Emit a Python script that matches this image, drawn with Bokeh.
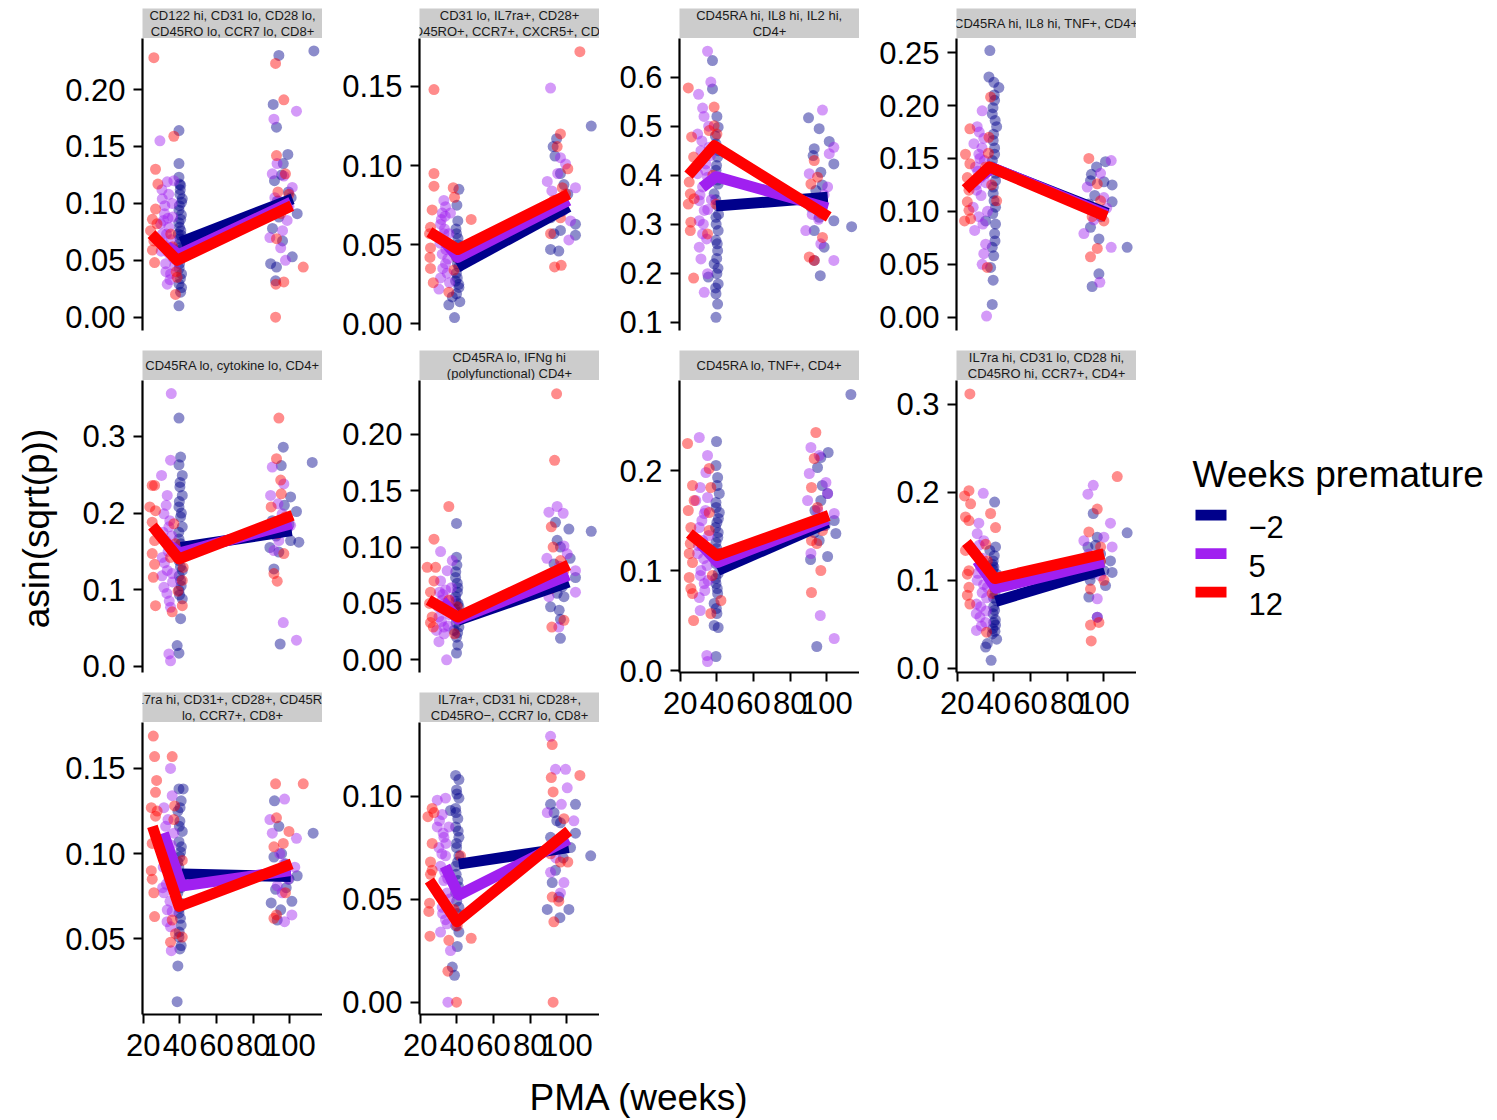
import math
from bokeh.plotting import figure
from bokeh.layouts import row, column
from bokeh.models import Range1d, FixedTicker, Spacer
from bokeh.embed import file_html
from bokeh.resources import INLINE
from bokeh.core.properties import value

FONT = "Liberation Sans"
GROUPS = ["\u22122", "5", "12"]
COLORS = ["#00008B", "#A020F0", "#FF0000"]
STRIP_FILL = "#CCCCCC"

TITLES = [
    "CD122 hi, CD31 lo, CD28 lo,\nCD45RO lo, CCR7 lo, CD8+",
    "CD31 lo, IL7ra+, CD28+\nCD45RO+, CCR7+, CXCR5+, CD4+",
    "CD45RA hi, IL8 hi, IL2 hi,\nCD4+",
    "CD45RA hi, IL8 hi, TNF+, CD4+",
    "CD45RA lo, cytokine lo, CD4+",
    "CD45RA lo, IFNg hi\n(polyfunctional) CD4+",
    "CD45RA lo, TNF+, CD4+",
    "IL7ra hi, CD31 lo, CD28 hi,\nCD45RO hi, CCR7+, CD4+",
    "IL7ra hi, CD31+, CD28+, CD45RO\nlo, CCR7+, CD8+",
    "IL7ra+, CD31 hi, CD28+,\nCD45RO\u2212, CCR7 lo, CD8+",
]

X_RANGE = (19.6, 117.8)
X_TICKS = [20, 40, 60, 80, 100]

Y_LIMITS = [(-0.0117, 0.2449), (-0.0042, 0.1803), (0.083, 0.679), (-0.0126, 0.2634),
            (-0.0082, 0.373), (-0.0113, 0.2478), (-0.002, 0.29), (-0.0049, 0.3273),
            (0.0055, 0.177), (-0.006, 0.1357)]
Y_TICKS = [[0.0, 0.05, 0.10, 0.15, 0.20], [0.0, 0.05, 0.10, 0.15], [0.1, 0.2, 0.3, 0.4, 0.5, 0.6],
           [0.0, 0.05, 0.10, 0.15, 0.20, 0.25], [0.0, 0.1, 0.2, 0.3], [0.0, 0.05, 0.10, 0.15, 0.20],
           [0.0, 0.1, 0.2], [0.0, 0.1, 0.2, 0.3], [0.05, 0.10, 0.15], [0.0, 0.05, 0.10]]
Y_TICK_LABELS = [["0.00", "0.05", "0.10", "0.15", "0.20"], ["0.00", "0.05", "0.10", "0.15"],
                 ["0.1", "0.2", "0.3", "0.4", "0.5", "0.6"], ["0.00", "0.05", "0.10", "0.15", "0.20", "0.25"],
                 ["0.0", "0.1", "0.2", "0.3"], ["0.00", "0.05", "0.10", "0.15", "0.20"],
                 ["0.0", "0.1", "0.2"], ["0.0", "0.1", "0.2", "0.3"], ["0.05", "0.10", "0.15"],
                 ["0.00", "0.05", "0.10"]]

# ---------------- points (PMA weeks, asin(sqrt(p))) ----------------
P1_N_X = [39.5,39.5,39.5,40.4,40,40.9,39.5,40.4,39.8,40.7,39.5,40.4,39.8,40.9,39.5,40.4,39.5,41.3,39.1,41.3,
          94,113.1,90.9,92.7,98.9,96.4,91.6,100.7,104,94,89.5,92.7,101.3,92.2,96,93.1,
          40.2,39.7,40.8,39.4,40.5,40.1,39.9,40.6,39.6,40.3,40.9,39.8, 95.5,97.8,90.5,99.2]
P1_N_Y = [0.164,0.135,0.123,0.116,0.108,0.101,0.094,0.086,0.079,0.072,0.064,0.056,0.047,0.038,0.029,0.022,0.010,0.104,0.073,0.060,
          0.230,0.234,0.187,0.167,0.143,0.135,0.120,0.105,0.091,0.088,0.047,0.044,0.053,0.032,0.067,0.102,
          0.112,0.098,0.090,0.083,0.076,0.069,0.061,0.052,0.043,0.034,0.026,0.117, 0.125,0.096,0.078,0.110]
P1_P_X = [29.1,33.1,30.4,31.6,29.5,32.7,31.3,34,32.2,34.9,33.1,35.8,36.7,30.4,34,35.3,
          91.3,103.6,90.4,96.7,94,101.3,89.1,97.6,95,98.5,91.3,96,
          30.2,31.8,33.5,35.2,36.4,29.8,32.4,34.6,37.2,31.0,33.9,36.0, 93,99.5,91.8]
P1_P_Y = [0.155,0.119,0.104,0.091,0.082,0.073,0.064,0.056,0.047,0.038,0.029,0.100,0.120,0.073,0.079,0.061,
          0.174,0.181,0.126,0.124,0.102,0.114,0.070,0.050,0.061,0.085,0.091,0.076,
          0.112,0.098,0.087,0.068,0.052,0.058,0.040,0.033,0.045,0.085,0.108,0.088, 0.135,0.097,0.105]
P1_R_X = [25.8,26.7,28,26.7,25,24,25.8,25,26.2,36.7,38.5,37.6,36.7,35,
          92.2,96.7,92.7,97.6,93.5,92.7,92.4,96.7,107.3,92.2,99.5,95, 36.0,38.0,27.5]
P1_R_Y = [0.228,0.130,0.117,0.095,0.086,0.076,0.067,0.059,0.048,0.159,0.035,0.020,0.053,0.073,
          0.223,0.191,0.142,0.126,0.110,0.069,0.029,0.031,0.044,0.0,0.108,0.091, 0.062,0.040,0.082]

P2_N_X = [41.1,40.5,39.8,40.7,39.8,41.1,40.2,41.1,39.8,41.6,35.6,38.7,37.5,39.3,
          113.3,94.4,92.5,96.5,98.4,94.7,91.1,96.5,104.7,91.1,95.6,104.7,92.9,
          40.0,39.5,40.8,40.3,39.7,41.0,39.9,40.6, 93.5,97.2,100.5]
P2_N_Y = [0.085,0.065,0.057,0.050,0.042,0.036,0.029,0.023,0.019,0.014,0.012,0.004,0.017,0.027,
          0.125,0.117,0.112,0.095,0.088,0.078,0.067,0.059,0.056,0.047,0.046,0.063,0.057,
          0.075,0.060,0.046,0.038,0.032,0.025,0.047,0.054, 0.106,0.071,0.082]
P2_P_X = [32.9,32,33.8,31.1,32.9,34.7,32,33.8,31.1,30.2,35.6,34.7,36.5,
          91.1,89.3,96.5,99.3,104.7,101.1,98.4,91.8,
          31.5,33.2,34.0,35.0,32.3,36.0,30.8,33.6, 95.0,92.7,102.0]
P2_P_Y = [0.078,0.070,0.074,0.063,0.057,0.051,0.044,0.038,0.029,0.022,0.057,0.032,0.070,
          0.149,0.090,0.105,0.101,0.086,0.053,0.072,0.084,
          0.066,0.060,0.047,0.041,0.035,0.026,0.051,0.068, 0.095,0.077,0.065]
P2_R_X = [27.5,27.5,27.5,26.5,25.6,25.1,25.6,25.3,25.6,27.1,38,38.7,47.8,40.2,38.4,35.6,
          107.1,96.5,94.7,100.5,97.5,92.9,96.5,91.1,93.3,96.9,99.3]
P2_R_Y = [0.148,0.095,0.087,0.072,0.061,0.057,0.048,0.042,0.035,0.026,0.086,0.080,0.066,0.042,0.034,0.020,
          0.172,0.120,0.112,0.098,0.086,0.078,0.067,0.057,0.036,0.037,0.082]

P3_N_X = [37.6,37.6,40.7,39.5,40.4,39.5,40.7,38.5,40.4,39.5,40.7,39.5,40.4,38.5,40,40.7,39.5,40.4,39.5,35.3,
          90,95.8,101.3,93.1,103.8,96.7,94,91.3,95.8,93.1,98.5,93.1,96.4,113.5,103.8,
          40.0,39.2,40.8,39.8,40.5,39.4,40.9,39.6,40.2,39.9,40.6,39.3, 92.5,97.5,95.0]
P3_N_Y = [0.634,0.576,0.498,0.464,0.437,0.410,0.382,0.362,0.338,0.314,0.287,0.267,0.246,0.219,0.199,0.178,0.158,0.137,0.110,0.192,
          0.517,0.495,0.469,0.454,0.423,0.406,0.369,0.335,0.314,0.287,0.253,0.226,0.195,0.295,0.307,
          0.52,0.48,0.45,0.42,0.39,0.35,0.32,0.30,0.26,0.23,0.21,0.17, 0.44,0.38,0.34]
P3_P_X = [34.9,36.7,30,32.2,29.5,31.3,34,29.5,32.2,30.4,33.1,30.4,32.2,30.4,31.3,34.9,33.1,35.8,34.9,
          97.6,103.8,101.3,88.5,103.8,96.7,93.1,100.4,90.4,
          33.0,35.5,31.8,36.5,33.8,30.8,35.0,32.6,34.4,37.0, 95.5,98.5,92.0]
P3_P_Y = [0.653,0.590,0.565,0.537,0.484,0.450,0.423,0.403,0.376,0.348,0.328,0.307,0.280,0.253,0.229,0.199,0.161,0.457,0.396,
          0.533,0.457,0.444,0.287,0.226,0.260,0.348,0.376,0.403,
          0.52,0.50,0.47,0.44,0.41,0.36,0.33,0.30,0.27,0.35, 0.31,0.36,0.32]
P3_R_X = [24.4,26.2,27.3,24.9,25.5,24.4,25.8,25.5,27.3,27.6,38.5,38.5,40,35.8,39.5,34.9,
          93.1,94.9,97.1,93.1,90.4,97.6,91.3, 36.5,37.8]
P3_R_Y = [0.578,0.478,0.437,0.386,0.362,0.341,0.304,0.287,0.190,0.352,0.539,0.501,0.484,0.491,0.341,0.280,
          0.430,0.396,0.321,0.226,0.233,0.273,0.382, 0.45,0.40]

P4_N_X = [37.8,37.3,40,42.7,40.4,39.1,41.5,39.6,40.4,39.1,40.9,39.6,40.9,35.5,40.4,39.1,38.2,39.6,39.1,40.9,
          96,100.9,92.7,104.5,100,104.5,94.5,92.7,97.3,97.3,93.6,112.7,91.8,
          40.2,39.5,40.7,39.8,40.4,39.2,40.9,39.7,40.1,39.4,40.6,39.9, 95.0,98.5,93.2]
P4_N_Y = [0.252,0.227,0.222,0.217,0.205,0.192,0.180,0.167,0.154,0.142,0.129,0.117,0.104,0.091,0.079,0.066,0.047,0.035,0.012,0.088,
          0.142,0.147,0.129,0.125,0.128,0.109,0.101,0.085,0.074,0.041,0.029,0.066,0.107,
          0.210,0.198,0.186,0.173,0.160,0.148,0.136,0.123,0.110,0.098,0.072,0.058, 0.115,0.095,0.135]
P4_P_X = [36,33.6,30.9,29.1,31.8,30,32.7,30.5,28.7,31.8,29.5,35.5,34.5,33.6,34.5,
          104,98.2,89.1,104,97.8,100,90.9,
          32.0,33.5,34.8,31.2,35.8,33.0,30.4,36.5,34.0,32.4, 94.5,101.5]
P4_P_Y = [0.001,0.195,0.180,0.164,0.154,0.142,0.132,0.120,0.104,0.095,0.082,0.069,0.060,0.050,0.169,
          0.148,0.136,0.079,0.066,0.033,0.113,0.123,
          0.175,0.160,0.148,0.138,0.127,0.115,0.125,0.100,0.088,0.150, 0.092,0.103]
P4_R_X = [26.9,24.5,26.9,25.5,26.4,25.5,26.4,24,27.3,38.2,37.3,35.5,41.5,36.4,35.5,
          91.8,96.4,98.2,93.6,92.7,96.4,100, 37.0,38.8]
P4_R_Y = [0.178,0.154,0.145,0.132,0.120,0.109,0.101,0.091,0.093,0.208,0.170,0.142,0.110,0.047,0.136,
          0.150,0.126,0.110,0.095,0.057,0.065,0.091, 0.155,0.125]

P5_N_X = [39.5,40.4,39.5,41.3,40,41.3,39.5,40.4,41.3,39.5,40.4,39.5,41.3,40.4,39.5,41.3,40.4,38.5,39.5,
          96.4,95.3,112.2,100.4,103.6,90.4,98.5,104.9,89.1,94,91.3,94.7,100.4,
          40.1,39.7,40.8,39.4,40.5,39.9,40.3,39.6,40.7,39.8, 97.0,92.5,99.5]
P5_N_Y = [0.324,0.273,0.263,0.249,0.234,0.223,0.208,0.195,0.182,0.166,0.153,0.138,0.125,0.112,0.099,0.088,0.062,0.027,0.017,
          0.286,0.262,0.266,0.221,0.202,0.190,0.179,0.162,0.155,0.149,0.127,0.029,0.164,
          0.240,0.215,0.200,0.175,0.160,0.145,0.130,0.118,0.105,0.093, 0.210,0.170,0.185]
P5_P_X = [35.3,34.9,30,33.1,31.3,34,32.2,30.4,33.1,31.3,34.9,34,34.9,36.7,35.8,
          90.4,96.7,89.5,95.8,100.4,94,91.3,96.4,103.6,
          32.5,34.5,30.8,35.5,33.6,31.6,36.0,32.9,34.2,30.2, 93.5,98.0]
P5_P_Y = [0.356,0.269,0.249,0.223,0.199,0.182,0.164,0.142,0.125,0.103,0.077,0.016,0.007,0.155,0.121,
          0.260,0.238,0.223,0.199,0.184,0.164,0.151,0.057,0.034,
          0.210,0.190,0.175,0.170,0.150,0.135,0.110,0.095,0.085,0.118, 0.212,0.178]
P5_R_X = [24.9,26.2,23.6,26.7,24.9,26.2,24.9,26.2,25.5,26.7,35.8,41.3,41.3,36.7,34.9,41.8,
          94,92.7,95,89.8,97.6,93.1,96.7,93.1,91.3,95.3, 37.5,39.0]
P5_R_Y = [0.236,0.236,0.208,0.203,0.188,0.164,0.147,0.133,0.116,0.079,0.071,0.079,0.112,0.186,0.142,0.129,
          0.324,0.271,0.243,0.208,0.195,0.173,0.147,0.111,0.121,0.225, 0.160,0.098]

P6_N_X = [39.8,39.8,39.3,40.5,39.3,41.1,39.8,41.1,39.8,40.5,39.8,38.4,40.2,39.5,40.8,39.6,40.3,39.0,
          93.8,101.1,113.3,94.7,96.5,101.8,104.7,91.5,94.7,91.1,96.5,96.5,98.4,
          40.0,39.4,40.6,39.7,40.4, 93.0,97.5,95.8]
P6_N_Y = [0.121,0.091,0.073,0.064,0.056,0.047,0.038,0.029,0.020,0.013,0.006,0.026,0.068,0.052,0.042,0.033,0.060,0.045,
          0.122,0.116,0.114,0.106,0.100,0.090,0.073,0.076,0.059,0.047,0.036,0.019,0.056,
          0.084,0.078,0.050,0.040,0.024, 0.085,0.065,0.044]
P6_P_X = [31.1,34.7,31.1,33.8,32,35.6,30.2,32.9,30.2,34.4,37,37.5,28.9,
          90.2,94.7,98,89.1,100.2,104.7,104.7,98.4,95.6,90.2,
          30.5,32.3,33.4,34.8,36.0,31.6,33.0,35.2,36.6,29.8, 96.0,92.0]
P6_P_Y = [0.096,0.079,0.070,0.062,0.053,0.047,0.038,0.029,0.016,0.0,0.064,0.088,0.026,
          0.131,0.136,0.130,0.090,0.094,0.079,0.060,0.101,0.029,0.056,
          0.060,0.058,0.050,0.044,0.040,0.034,0.023,0.030,0.053,0.047, 0.083,0.068]
P6_R_X = [27.5,23.8,28.4,27.5,25.6,25.1,26.5,25.6,27.1,35.6,40.2,41.1,38.7,35.6,
          94.4,93.3,91.5,92.5,96.5,98.4,91.1,98.4,91.8,94.7]
P6_R_Y = [0.107,0.082,0.082,0.070,0.060,0.050,0.038,0.033,0.029,0.136,0.047,0.038,0.023,0.053,
          0.236,0.177,0.118,0.100,0.088,0.079,0.063,0.035,0.029,0.073]

P7_N_X = [39.8,39.5,40.4,41.3,39.5,41.3,40,40.7,39.5,40.4,39.5,40.7,39.5,40.4,38.5,40,38.5,40.7,39.5,
          113.1,100.7,96.7,94.9,100.4,96.7,104,104.9,93.1,95.8,91.1,100.4,94.5,
          40.1,39.6,40.8,39.3,40.5,39.9,40.6,39.4,40.2,39.7, 93.5,97.5,99.0]
P7_N_Y = [0.229,0.205,0.193,0.177,0.168,0.158,0.148,0.138,0.128,0.117,0.107,0.097,0.087,0.077,0.067,0.057,0.045,0.043,0.014,
          0.276,0.218,0.213,0.203,0.177,0.170,0.150,0.137,0.138,0.130,0.111,0.114,0.024,
          0.185,0.163,0.152,0.143,0.133,0.122,0.112,0.092,0.082,0.062, 0.160,0.185,0.145]
P7_P_X = [30.4,34.9,34,30.9,28.5,33.1,30.4,32.2,29.5,31.3,33.1,30.4,30.9,34.5,34.9,34.9,
          91.3,95.8,90.4,99.5,100.4,89.5,104,93.1,91.3,96.4,104,
          33.8,31.8,35.5,30.0,32.8,34.6,31.0,36.0,33.4,35.2, 95.0,97.8]
P7_P_Y = [0.233,0.215,0.198,0.183,0.170,0.157,0.143,0.130,0.117,0.100,0.087,0.073,0.060,0.015,0.009,0.173,
          0.223,0.215,0.197,0.188,0.177,0.170,0.157,0.143,0.117,0.055,0.032,
          0.160,0.150,0.135,0.125,0.112,0.105,0.095,0.120,0.080,0.090, 0.160,0.145]
P7_R_X = [24,26.7,27.6,24.4,25.8,25.5,24.9,26.7,24.9,25.8,26.7,27.3,35.8,36.7,35.8,35.8,36.7,42.2,41.3,
          94,93.1,91.6,94.9,91.6,97.6,96.7,91.6,94.5, 37.5]
P7_R_Y = [0.227,0.185,0.170,0.160,0.143,0.127,0.117,0.108,0.093,0.082,0.077,0.050,0.202,0.183,0.158,0.140,0.057,0.070,0.117,
          0.238,0.212,0.183,0.163,0.130,0.140,0.100,0.078,0.127, 0.095]

P8_N_X = [40.4,40.9,39.6,41.5,40.4,41.5,39.6,40.9,39.1,41.5,36.4,35.5,38.5,37.8,40.0,39.3,40.6,39.9,40.8,39.4,
          94.2,112.7,96.4,91.3,103.6,100,98.2,104.5,91.8,100.9,96.4,93.6,
          40.2,39.5,40.7,39.8,40.4,39.9,40.6,39.3, 95.5,98.0,92.5]
P8_N_Y = [0.189,0.138,0.122,0.107,0.092,0.077,0.062,0.049,0.039,0.033,0.028,0.024,0.009,0.134,0.115,0.100,0.085,0.070,0.055,0.045,
          0.176,0.154,0.149,0.138,0.122,0.111,0.130,0.109,0.081,0.094,0.058,0.107,
          0.128,0.112,0.096,0.080,0.066,0.052,0.042,0.118, 0.140,0.120,0.100]
P8_P_X = [34.2,31.8,30.9,34.5,30,32.7,30.9,33.6,30.5,32.4,30.5,35.5,36.4,
          94.2,91.3,89.1,103.6,104.5,100,98.2,96.4,96.4,91.8,
          32.0,33.8,35.0,31.2,34.4,36.0,32.8,30.4,35.8,33.2, 97.5,93.0]
P8_P_Y = [0.199,0.165,0.153,0.145,0.130,0.115,0.100,0.086,0.073,0.058,0.043,0.052,0.092,
          0.208,0.198,0.145,0.165,0.138,0.149,0.105,0.079,0.058,0.130,
          0.140,0.125,0.110,0.108,0.095,0.080,0.070,0.062,0.065,0.048, 0.125,0.115]
P8_R_X = [26.9,24,26.4,27.3,24.5,26.4,24.5,26.4,25.5,26.4,25.5,26.9,38.2,40.9,35.5,36.4,39.1,40.9,36,
          107.3,96.4,91.8,98.2,92.7,98.2,92.7,97.3,93.1,100]
P8_R_Y = [0.312,0.196,0.202,0.187,0.172,0.168,0.134,0.111,0.107,0.092,0.083,0.073,0.176,0.160,0.141,0.122,0.085,0.092,0.041,
          0.218,0.181,0.155,0.138,0.090,0.122,0.049,0.052,0.031,0.100]

P9_N_X = [38.5,38.9,40,39.5,40.7,39.5,40.4,38.9,41.3,40,38.9,40.4,39.5,41.3,40,38.9,40.7,39.5,41.8,37.6,
          91.6,112.7,94,91.3,97.6,104,92.2,89.8,101.1,93.1,95,99.5,
          40.1,39.7,40.8,39.4,40.5,39.9,40.3,39.6,40.7,40.0, 95.5,98.0,92.8]
P9_N_Y = [0.013,0.034,0.044,0.051,0.058,0.065,0.071,0.077,0.083,0.088,0.095,0.101,0.107,0.113,0.119,0.125,0.131,0.138,0.138,0.085,
          0.131,0.112,0.116,0.098,0.094,0.087,0.079,0.071,0.072,0.061,0.067,0.085,
          0.127,0.116,0.104,0.092,0.080,0.068,0.062,0.054,0.046,0.098, 0.100,0.080,0.090]
P9_P_X = [34.9,31.3,32.2,29.5,33.1,30.9,34,31.3,33.1,34.9,35.3,35.8,36.7,
          97.1,89.1,103.6,90.4,96.7,93.1,101.1,97.1,95.8,102.7,
          33.5,35.2,31.8,36.2,32.6,34.6,30.6,35.8,33.0,34.0, 94.5,99.0]
P9_P_Y = [0.150,0.127,0.116,0.108,0.100,0.092,0.085,0.077,0.067,0.057,0.043,0.134,0.112,
          0.132,0.120,0.109,0.112,0.094,0.081,0.064,0.060,0.077,0.092,
          0.120,0.105,0.096,0.090,0.082,0.072,0.080,0.066,0.060,0.098, 0.100,0.085]
P9_R_X = [25.5,26.2,27.3,26.7,24.4,27.6,26.7,24.9,24.4,24.9,25.8,26.2,35.8,37.1,36.7,41.3,47.6,35.8,37.6,41.3,34.9,
          107.3,92.2,92.7,99.5,96.4,91.3,94.5,97.6,92.7,91.3]
P9_R_Y = [0.169,0.157,0.143,0.136,0.127,0.125,0.122,0.106,0.090,0.085,0.077,0.063,0.157,0.128,0.120,0.096,0.086,0.061,0.053,0.051,0.048,
          0.141,0.141,0.121,0.113,0.106,0.104,0.087,0.077,0.064,0.062]

P10_N_X = [39.3,41.1,39.8,41.1,39.3,40.5,39.3,41.1,39.8,41.1,39.3,40.5,39.3,41.1,39.8,41.1,40.2,37.5,38.7,36.5,
           91.1,104.7,96.5,104.7,102,113,93.8,92,95.6,89.3,101.1,96.2,91.1,
           40.0,39.5,40.7,39.8,40.4,39.6,40.9,39.9,40.2,39.4, 94.5,98.0,93.0]
P10_N_Y = [0.110,0.108,0.103,0.099,0.094,0.089,0.085,0.080,0.075,0.071,0.066,0.059,0.053,0.046,0.040,0.034,0.027,0.017,0.013,0.093,
           0.096,0.096,0.087,0.082,0.075,0.071,0.064,0.058,0.051,0.045,0.045,0.041,0.080,
           0.101,0.092,0.083,0.077,0.068,0.062,0.056,0.049,0.043,0.037, 0.088,0.070,0.092]
P10_P_X = [29.3,33.8,32,29.3,32.9,30.2,33.8,31.1,32.9,34.7,32,33.8,31.1,36.5,35.1,35.6,
           91.1,99.3,93.8,100.2,89.3,103.8,96.5,98.4,91.1,96.5,
           30.5,32.5,34.0,31.8,33.4,35.0,30.2,36.0,32.2,34.6, 97.0,94.0]
P10_P_Y = [0.098,0.099,0.091,0.085,0.080,0.075,0.071,0.066,0.059,0.053,0.046,0.040,0.034,0.025,0.0,0.085,
           0.129,0.113,0.113,0.104,0.092,0.088,0.077,0.058,0.063,0.053,
           0.088,0.082,0.077,0.072,0.063,0.060,0.052,0.050,0.043,0.038, 0.096,0.070]
P10_R_X = [24.2,26.5,27.5,26.5,25.6,26.5,25.6,25.1,24.7,25.3,35.1,39.8,47.8,42,38.4,40.2,35.6,
           92,107.1,91.5,92.5,98.4,91.1,96.5,100.5,92,95.6,92.9,92.5]
P10_R_Y = [0.090,0.094,0.092,0.077,0.068,0.064,0.062,0.048,0.044,0.032,0.015,0.0,0.031,0.071,0.045,0.037,0.030,
           0.125,0.110,0.109,0.102,0.089,0.072,0.068,0.068,0.051,0.049,0.039,0.0]

# ---------------- fitted group trajectories ----------------
L1_N = ([40.4, 101.5], [0.066, 0.104]); L1_P = ([33, 39.5, 100.5], [0.062, 0.055, 0.101]); L1_R = ([24.5, 38.5, 101], [0.073, 0.050, 0.098])
L2_N = ([40.5, 101], [0.036, 0.074]); L2_P = ([32.5, 40.5, 101], [0.053, 0.042, 0.078]); L2_R = ([25, 40.5, 101], [0.058, 0.047, 0.082])
L3_N = ([39.5, 100.5], [0.337, 0.355]); L3_P = ([32, 39.5, 100.5], [0.375, 0.397, 0.333]); L3_R = ([24.5, 38.5, 101], [0.400, 0.460, 0.315])
L4_N = ([40.5, 102], [0.140, 0.098]); L4_P = ([32.5, 39.5, 101.5], [0.133, 0.141, 0.097]); L4_R = ([24.5, 37.5, 101.5], [0.121, 0.142, 0.095])
L5_N = ([40.5, 101], [0.155, 0.177]); L5_P = ([33, 40, 101], [0.160, 0.148, 0.186]); L5_R = ([25, 39.5, 101.5], [0.183, 0.140, 0.197])
L6_N = ([40.5, 101], [0.035, 0.069]); L6_P = ([32, 40.5, 101], [0.052, 0.036, 0.075]); L6_R = ([24.5, 40.5, 101], [0.053, 0.038, 0.084])
L7_N = ([40.5, 100.5], [0.100, 0.148]); L7_P = ([31, 40.5, 100.5], [0.127, 0.108, 0.151]); L7_R = ([25, 40, 101], [0.137, 0.115, 0.155])
L8_N = ([41, 100], [0.076, 0.113]); L8_P = ([31, 41, 100], [0.122, 0.091, 0.121]); L8_R = ([25, 40.5, 100], [0.143, 0.102, 0.130])
L9_N = ([41, 100.5], [0.088, 0.0865]); L9_P = ([31, 41, 100.5], [0.112, 0.081, 0.090]); L9_R = ([25, 39.5, 101], [0.116, 0.069, 0.094])
L10_N = ([41, 101], [0.067, 0.075]); L10_P = ([33.5, 41, 101], [0.066, 0.052, 0.079]); L10_R = ([25, 40, 101], [0.059, 0.039, 0.083])

POINTS = [
    [(P1_N_X, P1_N_Y), (P1_P_X, P1_P_Y), (P1_R_X, P1_R_Y)],
    [(P2_N_X, P2_N_Y), (P2_P_X, P2_P_Y), (P2_R_X, P2_R_Y)],
    [(P3_N_X, P3_N_Y), (P3_P_X, P3_P_Y), (P3_R_X, P3_R_Y)],
    [(P4_N_X, P4_N_Y), (P4_P_X, P4_P_Y), (P4_R_X, P4_R_Y)],
    [(P5_N_X, P5_N_Y), (P5_P_X, P5_P_Y), (P5_R_X, P5_R_Y)],
    [(P6_N_X, P6_N_Y), (P6_P_X, P6_P_Y), (P6_R_X, P6_R_Y)],
    [(P7_N_X, P7_N_Y), (P7_P_X, P7_P_Y), (P7_R_X, P7_R_Y)],
    [(P8_N_X, P8_N_Y), (P8_P_X, P8_P_Y), (P8_R_X, P8_R_Y)],
    [(P9_N_X, P9_N_Y), (P9_P_X, P9_P_Y), (P9_R_X, P9_R_Y)],
    [(P10_N_X, P10_N_Y), (P10_P_X, P10_P_Y), (P10_R_X, P10_R_Y)],
]
LINES = [[L1_N, L1_P, L1_R], [L2_N, L2_P, L2_R], [L3_N, L3_P, L3_R], [L4_N, L4_P, L4_R],
         [L5_N, L5_P, L5_R], [L6_N, L6_P, L6_R], [L7_N, L7_P, L7_R], [L8_N, L8_P, L8_R],
         [L9_N, L9_P, L9_R], [L10_N, L10_P, L10_R]]

for grp in POINTS:
    for xs, ys in grp:
        assert len(xs) == len(ys), (len(xs), len(ys))

# ---------------- layout constants ----------------
MARGIN = 8
FRAME_W, FRAME_H, STRIP_H, GAP, AXIS_B = 180, 292, 30, 20, 56
LEFT_BORDERS = [84, 97, 80, 97]
NCOL = 4
COL_H = 1062
XLAB_H = 48
TICK_FONT = "31px"
TITLE_FONT = "37px"


def style_axis(ax, standoff):
    ax.axis_line_width = 2.2
    ax.axis_line_color = "black"
    ax.major_tick_line_width = 2
    ax.major_tick_line_color = "black"
    ax.major_tick_out = 9
    ax.major_tick_in = 0
    ax.minor_tick_line_color = None
    ax.major_label_text_font = FONT
    ax.major_label_text_font_size = TICK_FONT
    ax.major_label_text_color = "black"
    ax.major_label_standoff = standoff


def bare(fig):
    fig.xgrid.visible = False
    fig.ygrid.visible = False
    return fig


def make_strip(title, lb):
    s = figure(frame_width=FRAME_W, frame_height=STRIP_H, x_range=Range1d(0, 1), y_range=Range1d(0, 1),
               min_border_left=lb, min_border_right=0, min_border_top=0, min_border_bottom=0,
               x_axis_location=None, y_axis_location=None, toolbar_location=None,
               output_backend="svg", outline_line_color=None, background_fill_color=STRIP_FILL)
    bare(s)
    s.text(x=[0.5], y=[0.5], text=[title], text_align="center", text_baseline="middle",
           text_font=value(FONT), text_font_size="13px", text_color="#1A1A1A", text_line_height=1.05)
    return s


def make_panel(i, lb, has_x):
    lo, hi = Y_LIMITS[i]
    p = figure(frame_width=FRAME_W, frame_height=FRAME_H, x_range=Range1d(*X_RANGE), y_range=Range1d(lo, hi),
               min_border_left=lb, min_border_right=0, min_border_top=0,
               min_border_bottom=AXIS_B if has_x else GAP,
               x_axis_location="below" if has_x else None, y_axis_location="left",
               toolbar_location=None, output_backend="svg", outline_line_color=None)
    bare(p)
    for ax in p.yaxis:
        style_axis(ax, 8)
    for ax in p.xaxis:
        style_axis(ax, 10)
    p.yaxis.ticker = FixedTicker(ticks=Y_TICKS[i])
    p.yaxis.major_label_overrides = {t: lab for t, lab in zip(Y_TICKS[i], Y_TICK_LABELS[i])}
    if has_x:
        p.xaxis.ticker = FixedTicker(ticks=X_TICKS)
        p.xaxis.major_label_overrides = {t: str(t) for t in X_TICKS}
    for (xs, ys), c in zip(POINTS[i], COLORS):
        p.scatter(x=xs, y=ys, size=11, fill_color=c, fill_alpha=0.45, line_color=None)
    for (xs, ys), c in zip(LINES[i], COLORS):
        p.line(x=xs, y=ys, line_width=11, line_color=c, line_cap="butt", line_join="round")
    return p


n = len(TITLES)
columns = []
for c in range(NCOL):
    idxs = [i for i in range(n) if i % NCOL == c]
    kids = []
    for k, i in enumerate(idxs):
        last = (k == len(idxs) - 1)
        kids.append(make_strip(TITLES[i], LEFT_BORDERS[c]))
        kids.append(make_panel(i, LEFT_BORDERS[c], last))
    columns.append(column(*kids))

# y-axis title
ylab = bare(figure(width=50, height=COL_H, x_range=Range1d(0, 50), y_range=Range1d(0, COL_H), min_border=0,
                   x_axis_location=None, y_axis_location=None, toolbar_location=None, output_backend="svg",
                   outline_line_color=None))
ylab.text(x=[28], y=[COL_H - 520], text=["asin(sqrt(p))"], angle=math.pi / 2, text_align="center",
          text_baseline="middle", text_font=value(FONT), text_font_size=TITLE_FONT, text_color="black")

# legend
LEG_W = 353
leg = bare(figure(width=LEG_W, height=COL_H, x_range=Range1d(0, LEG_W), y_range=Range1d(0, COL_H), min_border=0,
                  x_axis_location=None, y_axis_location=None, toolbar_location=None, output_backend="svg",
                  outline_line_color=None))
leg.text(x=[56], y=[596], text=["Weeks premature"], text_align="left", text_baseline="alphabetic",
         text_font=value(FONT), text_font_size=TITLE_FONT, text_color="black")
key_y = [555.3 - 38.5 * k for k in range(len(GROUPS))]
leg.rect(x=[74.5] * len(GROUPS), y=key_y, width=31, height=10.7, fill_color=COLORS, line_color=None)
leg.text(x=[112] * len(GROUPS), y=[ky - 12 for ky in key_y], text=GROUPS, text_align="left",
         text_baseline="alphabetic", text_font=value(FONT), text_font_size=TICK_FONT, text_color="black")

# x-axis title
xlab = bare(figure(frame_width=994, frame_height=XLAB_H, x_range=Range1d(0, 1), y_range=Range1d(0, XLAB_H),
                   min_border_left=134, min_border_right=0, min_border_top=0, min_border_bottom=0,
                   x_axis_location=None, y_axis_location=None, toolbar_location=None, output_backend="svg",
                   outline_line_color=None))
xlab.text(x=[0.5], y=[XLAB_H - 27], text=["PMA (weeks)"], text_align="center", text_baseline="middle",
          text_font=value(FONT), text_font_size=TITLE_FONT, text_color="black")

body = column(row(ylab, *columns, leg), xlab)
layout = column(Spacer(height=MARGIN), row(Spacer(width=MARGIN), body))

with open("out.html", "w") as f:
    f.write(file_html(layout, INLINE, title="facets"))
